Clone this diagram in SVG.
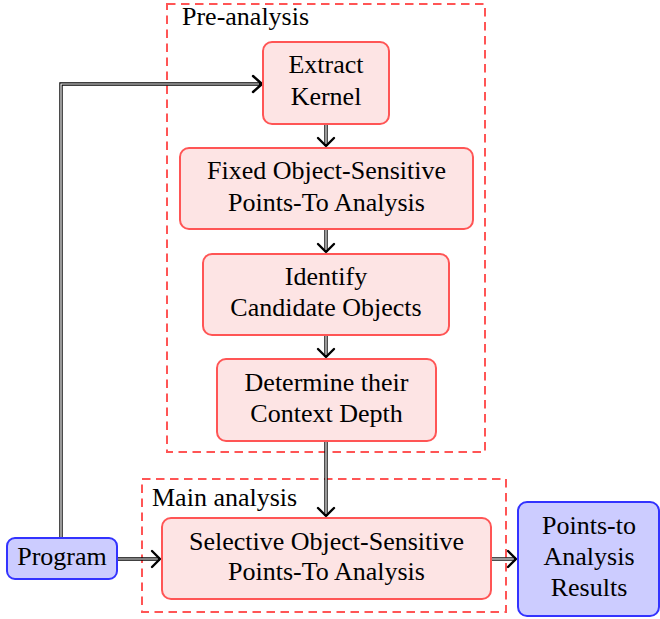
<svg xmlns="http://www.w3.org/2000/svg" width="660" height="619" viewBox="0 0 660 619">
<style>
.red{fill:#fde4e4;stroke:#ff5555;stroke-width:2}
.blue{fill:#ccccff;stroke:#3333ff;stroke-width:2}
.grp{fill:none;stroke:#ff5555;stroke-width:2;stroke-dasharray:8.5,5.5}
text{font-family:"Liberation Serif","Times New Roman",serif;font-size:26px;fill:#000}
.c{text-anchor:middle}
.outer{fill:none;stroke:#000;stroke-width:3.4}
.inner{fill:none;stroke:#fff;stroke-width:1.2}
.head{fill:none;stroke:#000;stroke-width:2.4;stroke-linecap:round;stroke-linejoin:round}
</style>
<rect x="0" y="0" width="660" height="619" fill="#fff"/>
<g id="preanalysis">
<rect class="grp" x="167" y="4" width="318" height="448"/>
<text x="182" y="25">Pre-analysis</text>
</g>
<g id="mainanalysis">
<rect class="grp" x="142" y="479" width="364" height="133"/>
<text x="152" y="506">Main analysis</text>
</g>
<g id="connectors">
<path class="outer" d="M61,538 V84 H261"/>
<path class="inner" d="M61,538 V84 H259"/>
<path class="head" d="M253,76 L262,84 L253,92"/>
<path class="outer" d="M326,124 V146"/>
<path class="inner" d="M326,124 V144"/>
<path class="head" d="M318,138 L326,146 L334,138"/>
<path class="outer" d="M326,229 V252"/>
<path class="inner" d="M326,229 V250"/>
<path class="head" d="M318,244 L326,252 L334,244"/>
<path class="outer" d="M326,335 V357"/>
<path class="inner" d="M326,335 V355"/>
<path class="head" d="M318,349 L326,357 L334,349"/>
<path class="outer" d="M326,441 V516"/>
<path class="inner" d="M326,441 V514"/>
<path class="head" d="M318,508 L326,516 L334,508"/>
<path class="outer" d="M117,559 H160"/>
<path class="inner" d="M117,559 H158"/>
<path class="head" d="M152,551 L160,559 L152,567"/>
<path class="outer" d="M491,559 H516"/>
<path class="inner" d="M491,559 H514"/>
<path class="head" d="M508,551 L516,559 L508,567"/>
</g>
<g id="extract">
<rect class="red" x="263" y="42" width="126" height="82" rx="9"/>
<text class="c" x="326" y="73">Extract</text>
<text class="c" x="326" y="105">Kernel</text>
</g>
<g id="fixed">
<rect class="red" x="180" y="148" width="293" height="81" rx="9"/>
<text class="c" x="326.5" y="179">Fixed Object-Sensitive</text>
<text class="c" x="326.5" y="211">Points-To Analysis</text>
</g>
<g id="identify">
<rect class="red" x="203" y="254" width="246" height="81" rx="9"/>
<text class="c" x="326" y="285">Identify</text>
<text class="c" x="326" y="316">Candidate Objects</text>
</g>
<g id="determine">
<rect class="red" x="217" y="359" width="219" height="82" rx="9"/>
<text class="c" x="326.5" y="391">Determine their</text>
<text class="c" x="326.5" y="422">Context Depth</text>
</g>
<g id="selective">
<rect class="red" x="162" y="518" width="329" height="81" rx="9"/>
<text class="c" x="326.5" y="550">Selective Object-Sensitive</text>
<text class="c" x="326.5" y="580">Points-To Analysis</text>
</g>
<g id="program">
<rect class="blue" x="7" y="538" width="110" height="41" rx="8"/>
<text class="c" x="62" y="565">Program</text>
</g>
<g id="results">
<rect class="blue" x="518" y="502" width="141" height="114" rx="9"/>
<text class="c" x="589" y="534">Points-to</text>
<text class="c" x="589" y="565">Analysis</text>
<text class="c" x="589" y="596">Results</text>
</g>
</svg>
